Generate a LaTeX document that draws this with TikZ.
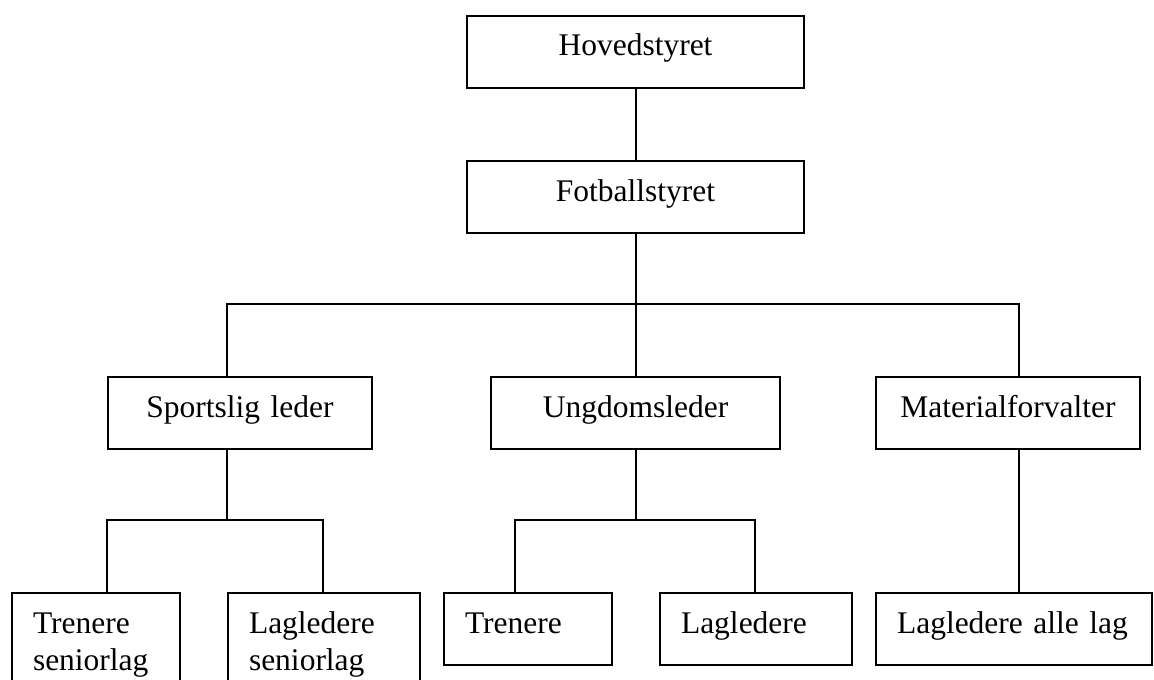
\documentclass[tikz,border=0pt]{standalone}
\usepackage{fontspec}
\setmainfont{Liberation Serif}
\begin{document}
\begin{tikzpicture}[x=0.5pt, y=-0.5pt,
	boks/.style={shape=rectangle, draw=black, line width=1pt, anchor=north west, inner ysep=0pt, text height=20pt, text depth=16pt, font=\fontsize{15.75}{18.5}\selectfont},
	midt/.style={boks, inner xsep=0pt, align=center},
	venstre/.style={boks, inner xsep=10.5pt, align=left},
	linje/.style={draw=black, line width=1pt}]
	\useasboundingbox (0,0) rectangle (1154,679);
	\clip (0,0) rectangle (1154,679);
	% styret
	\node (hoved) at (466,15) [midt, text width=168.5pt] {Hovedstyret};
	\node (fot) at (466,160) [midt, text width=168.5pt] {Fotballstyret};
	% ledere
	\node (sport) at (107,376) [midt, text width=132pt] {Sportslig leder};
	\node (ungdom) at (490,376) [midt, text width=144.5pt] {Ungdomsleder};
	\node (mat) at (875,376) [midt, text width=132pt] {Materialforvalter};
	% lag
	\node (tsen) at (11,592) [venstre, text width=63pt, text depth=45pt] {Trenere\\seniorlag};
	\node (lsen) at (227,592) [venstre, text width=75pt, text depth=45pt] {Lagledere\\seniorlag};
	\node (tren) at (443,592) [venstre, text width=63pt] {Trenere};
	\node (lagl) at (659,592) [venstre, text width=75pt] {Lagledere};
	\node (alle) at (875,592) [venstre, text width=117pt] {Lagledere alle lag};
	% linjer
	\coordinate (bus-v) at (227,304);
	\coordinate (bus-h) at (1019,304);
	\coordinate (sp-l) at (107,520);
	\coordinate (sp-r) at (323,520);
	\coordinate (ug-l) at (515,520);
	\coordinate (ug-r) at (755,520);
	\draw [linje] (hoved) -- (fot);
	\draw [linje] (fot.south) -- (fot.south |- ungdom.north);
	\draw [linje] (bus-v |- sport.north) -- (bus-v) -- (bus-h) -- (bus-h |- mat.north);
	\draw [linje] (bus-v |- sport.south) -- (bus-v |- sp-l);
	\draw [linje] (sp-l |- tsen.north) -- (sp-l) -- (sp-r) -- (sp-r |- lsen.north);
	\draw [linje] (ungdom.south) -- (ungdom.south |- ug-l);
	\draw [linje] (ug-l |- tren.north) -- (ug-l) -- (ug-r) -- (ug-r |- lagl.north);
	\draw [linje] (bus-h |- mat.south) -- (bus-h |- alle.north);
\end{tikzpicture}
\end{document}
